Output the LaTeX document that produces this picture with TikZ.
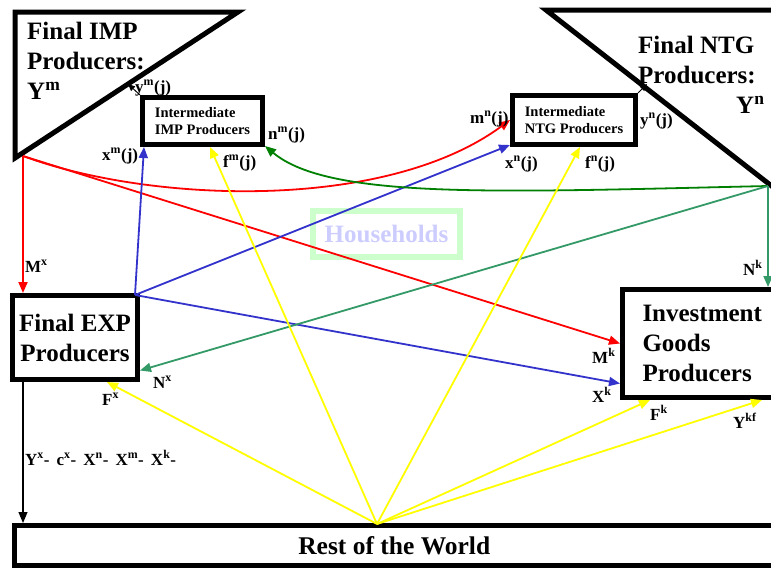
\documentclass[tikz,border=0pt]{standalone}
\usepackage{fontspec}
\setmainfont{Liberation Serif}
\usetikzlibrary{arrows.meta, calc}
\definecolor{impred}{RGB}{255,0,0}
\definecolor{expblue}{RGB}{51,51,204}
\definecolor{ntggreen}{RGB}{0,128,0}
\definecolor{invgreen}{RGB}{51,153,102}
\definecolor{rowyellow}{RGB}{255,255,0}
\definecolor{hhgreen}{RGB}{204,255,204}
\definecolor{hhblue}{RGB}{204,204,255}

\begin{document}
\begin{tikzpicture}[
        x=1pt, y=-1pt,
        >={Triangle[length=11pt,width=9pt]},
        sector/.style={
            draw, line width=5pt, fill=white,
            align=center, inner sep=0pt,
            font=\bfseries\fontsize{25}{30}\selectfont
        },
        sectortext/.style={inner sep=0pt, font=\bfseries\fontsize{25}{30}\selectfont},
        interbox/.style={
            draw, line width=5pt, fill=white,
            align=left, inner sep=0pt,
            font=\bfseries\fontsize{14.5}{17}\selectfont
        },
        flow/.style={->, line width=1.8pt},
        output/.style={-{Triangle[length=7pt,width=6pt]}, line width=1pt},
        lbl/.style={anchor=base west, inner sep=0pt, font=\bfseries\fontsize{17}{19}\selectfont}
    ]
        \clip (0,0) rectangle (771,571);

        % Final producers drawn as triangles
        \coordinate (imptl) at (15,12);
        \coordinate (imptr) at (238,12);
        \coordinate (impbl) at (15,158);
        \draw[line width=5pt] (imptl) -- (imptr) -- (impbl) -- cycle;
        \node[sectortext, anchor=north west, align=left] (impname) at (27,22) {Final IMP\\Producers:\\Y\textsuperscript{m}};

        \coordinate (ntgtl) at (546,10);
        \coordinate (ntgtr) at (778,10);
        \coordinate (ntgbr) at (778,191);
        \draw[line width=5pt] (ntgtl) -- (ntgtr) -- (ntgbr) -- cycle;
        \node[sectortext, anchor=north west, align=left] (ntgname) at (638,36) {Final NTG\\Producers:\\\hspace*{98pt}Y\textsuperscript{n}};

        \coordinate (impc) at (23,156);
        \coordinate (ntgc) at (768,186);

        % Boxes
        \node[interbox, minimum width=120pt, minimum height=47pt] (iimp) at (202.5,121) {Intermediate\\IMP Producers};
        \node[interbox, minimum width=123pt, minimum height=49pt] (intg) at (574,120) {Intermediate\\NTG Producers};
        \node[sector, minimum width=125pt, minimum height=84pt] (exp) at (75,337.5) {Final EXP\\Producers};
        \node[sector, anchor=west, align=left, text width=140pt, inner xsep=20pt, minimum height=108pt] (inv) at (620,343.5) {Investment\\Goods\\Producers};
        \node[sector, minimum width=759.5pt, minimum height=40pt, font=\bfseries\fontsize{25.5}{30}\selectfont] (row) at (394.25,545.5) {Rest of the World};
        \node[draw=hhgreen, line width=6pt, text=hhblue, inner sep=0pt, minimum width=147pt, minimum height=46pt,
              font=\bfseries\fontsize{25}{30}\selectfont] (hh) at (386.5,234) {Households};

        \coordinate (rowc) at (377,524);

        % Imports
        \draw[flow, impred] (impc) -- (impc |- exp.north);
        \draw[flow, impred] (impc) -- (inv.west);
        \draw[flow, impred] (impc) .. controls (150,203) and (385,212) .. (intg.west);

        % Exports sector inputs
        \draw[flow, expblue] ($(exp.north east)+(-5,2)$) -- ($(iimp.south west)+(4,0)$);
        \draw[flow, expblue] ($(exp.north east)+(-5,2)$) -- ($(intg.south west)+(0,-2)$);
        \draw[flow, expblue] ($(exp.north east)+(-5,2)$) -- ($(inv.west)+(0,40)$);

        % Non-traded goods
        \draw[flow, ntggreen] (ntgc) .. controls (500,192) and (330,200) .. ($(iimp.south east)+(0,-1)$);
        \draw[flow, invgreen] (ntgc) -- (ntgc |- inv.north);
        \draw[flow, invgreen] (ntgc) -- ($(exp.east)+(0,33)$);

        % Intermediate outputs
        \draw[output] (iimp.north west) -- (128,84);
        \draw[output] (intg.north east) -- (647,84);

        % Exports out
        \draw[flow, line width=1.2pt] (impc |- exp.south) -- (impc |- row.north);

        % Rest of the world
        \draw[flow, rowyellow] (rowc) -- ($(exp.south)+(32,0)$);
        \draw[flow, rowyellow] (rowc) -- ($(iimp.south)+(7.5,0)$);
        \draw[flow, rowyellow] (rowc) -- ($(intg.south)+(6,0)$);
        \draw[flow, rowyellow] (rowc) -- (650,400);
        \draw[flow, rowyellow] (rowc) -- (762,400);

        % Labels
        \node[lbl] (lym) at (135,92) {y\textsuperscript{m}(j)};
        \node[lbl] (lyn) at (640,125) {y\textsuperscript{n}(j)};
        \node[lbl] (lxm) at (102,160) {x\textsuperscript{m}(j)};
        \node[lbl] (lfm) at (223,167) {f\textsuperscript{m}(j)};
        \node[lbl] (lnm) at (268,139) {n\textsuperscript{m}(j)};
        \node[lbl] (lmn) at (470,123) {m\textsuperscript{n}(j)};
        \node[lbl] (lxn) at (505,168) {x\textsuperscript{n}(j)};
        \node[lbl] (lfn) at (585,168) {f\textsuperscript{n}(j)};
        \node[lbl] (lMx) at (25,272) {M\textsuperscript{x}};
        \node[lbl] (lNx) at (153,388) {N\textsuperscript{x}};
        \node[lbl] (lFx) at (102,405) {F\textsuperscript{x}};
        \node[lbl] (lYx) at (25,465) {Y\textsuperscript{x}- \,c\textsuperscript{x}- \,X\textsuperscript{n}- \,X\textsuperscript{m}- \,X\textsuperscript{k}-};
        \node[lbl] (lNk) at (743,275) {N\textsuperscript{k}};
        \node[lbl] (lMk) at (592,363) {M\textsuperscript{k}};
        \node[lbl] (lXk) at (592,402) {X\textsuperscript{k}};
        \node[lbl] (lFk) at (650,420) {F\textsuperscript{k}};
        \node[lbl] (lYkf) at (733,428) {Y\textsuperscript{kf}};
    \end{tikzpicture}
\end{document}
